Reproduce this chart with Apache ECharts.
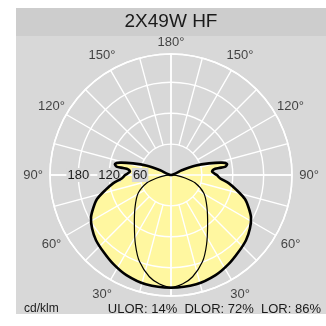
<!DOCTYPE html>
<html>
<head>
<meta charset="utf-8">
<script src="https://cdn.jsdelivr.net/npm/echarts@6/dist/echarts.min.js"></script>
<style>
  html, body { margin: 0; padding: 0; background: #fff; }
  #wrap { position: relative; width: 326px; height: 326px; }
  #headBar { position: absolute; left: 16px; top: 8px; width: 310px; height: 28px; background: #cdcdcd; }
  #bodyBox { position: absolute; left: 16px; top: 36px; width: 310px; height: 278px; background: #d8d8d8; }
  #chart { position: absolute; left: 0; top: 0; width: 326px; height: 326px; }
</style>
</head>
<body>
<div id="wrap">
  <div id="headBar"></div>
  <div id="bodyBox"></div>
  <div id="chart"></div>
</div>
<script>
// Luminous intensity diagram in cd/klm, gamma 0° = nadir, 180° = zenith
const titleText = '2X49W HF';
const unitText = 'cd/klm';
const ratioText = 'ULOR: 14%  DLOR: 72%  LOR: 86%';

const radiusMax = 235;
const radiusStep = 60;                        // rings at 60, 120, 180
const angleLabels = [30, 60, 90, 120, 150, 180];
const spokeStep = 15;

// C0 / C180 plane (thick outline, filled)
const gammaC0 = [0, 13, 24, 33, 41, 49, 56, 62, 67, 72, 77, 82, 86, 90, 94.6, 97.6, 98.3, 98.7, 101, 103.6, 107, 111, 114, 115];
const intensityC0 = [219, 218, 213, 206, 199, 193, 185, 176, 164, 151, 131, 113, 96, 89, 80, 84, 94, 107, 111, 102, 77, 50, 23, 0];

// C90 / C270 plane (thin outline)
const gammaC90 = [0, 6, 12, 20, 27, 36, 48, 61, 72, 78, 85, 90];
const intensityC90 = [218, 213, 202, 179, 152, 121, 94, 73, 49, 28, 10, 0];

const FONT = '"Liberation Sans", Arial, Helvetica, sans-serif';
const CX = 171, CY = 175, R = 121;
const labelRadius = radiusMax * 138 / R;      // angle labels sit just outside the rim

// Mirror one half-plane into a closed loop: left side 0..γmax, right side back down.
function closedLoop(gammas, values) {
  const left = gammas.map((g, i) => [values[i], g]);
  const right = [];
  for (let i = gammas.length - 2; i >= 1; i--) right.push([values[i], 360 - gammas[i]]);
  return left.concat(right);
}
const loopC0 = closedLoop(gammaC0, intensityC0);
const loopC90 = closedLoop(gammaC90, intensityC90);

function shapeSeries(loop, style, z) {
  return {
    type: 'custom',
    coordinateSystem: 'polar',
    polarIndex: 0,
    silent: true,
    z: z,
    clip: false,
    data: loop,
    renderItem: function (params, api) {
      if (params.dataIndex !== 0) return null;
      const pts = loop.map(p => api.coord(p));
      return { type: 'polygon', shape: { points: pts, smooth: 0.25 }, style: style };
    }
  };
}

// angle labels on both halves: left side value = γ, right side value = 360 - γ
const angleLabelData = [];
angleLabels.forEach(g => {
  const item = { value: [labelRadius, g], name: g + '°' };
  if (g === 180) item.label = { offset: [0, 5] };
  angleLabelData.push(item);
  if (g !== 180) angleLabelData.push({ value: [labelRadius, 360 - g], name: g + '°' });
});

const gridLine = { color: '#ffffff', width: 1.4 };
const innerSpokeRadius = R * radiusStep / radiusMax;

const chart = echarts.init(document.getElementById('chart'), null, { renderer: 'canvas' });
chart.setOption({
  animation: false,
  backgroundColor: 'transparent',
  polar: [
    { center: [CX, CY], radius: R },
    { center: [CX, CY], radius: [innerSpokeRadius, R] },
    { center: [CX, CY], radius: R }
  ],
  angleAxis: [
    {
      polarIndex: 0, type: 'value', min: 0, max: 360, interval: 30,
      startAngle: 270, clockwise: true, z: 5,
      axisLine: { show: true, lineStyle: { color: '#ffffff', width: 1.6 } },
      axisTick: { show: false }, splitLine: { show: false }, axisLabel: { show: false }
    },
    {
      polarIndex: 1, type: 'value', min: 0, max: 360, interval: spokeStep,
      startAngle: 270, clockwise: true, z: 5,
      axisLine: { show: false }, axisTick: { show: false }, axisLabel: { show: false },
      splitLine: { show: true, lineStyle: gridLine }
    },
    {
      polarIndex: 2, type: 'value', min: 0, max: 360, interval: 90,
      startAngle: 180, clockwise: true, z: 5,
      axisLine: { show: false }, axisTick: { show: false }, axisLabel: { show: false },
      splitLine: { show: true, lineStyle: gridLine }
    }
  ],
  radiusAxis: [
    {
      polarIndex: 0, type: 'value', min: 0, max: radiusMax, interval: radiusStep, z: 5,
      axisLine: { show: false }, axisTick: { show: false }, axisLabel: { show: false },
      splitLine: { show: true, lineStyle: gridLine }
    },
    { polarIndex: 1, type: 'value', min: 0, max: radiusMax, show: false },
    {
      polarIndex: 2, type: 'value', min: 0, max: radiusMax, interval: radiusStep, z: 8,
      axisLine: { show: false }, axisTick: { show: false }, splitLine: { show: false },
      axisLabel: {
        show: true, showMinLabel: false, showMaxLabel: false, margin: 0,
        align: 'center', verticalAlign: 'middle',
        fontSize: 13, color: '#1a1a1a', fontFamily: FONT,
        backgroundColor: '#d8d8d8', padding: [1, 1, 0, 1]
      }
    }
  ],
  series: [
    shapeSeries(loopC0, { fill: '#fff7a0', stroke: null }, 1),
    shapeSeries(loopC90, { fill: null, stroke: '#000000', lineWidth: 1.2 }, 10),
    shapeSeries(loopC0, { fill: null, stroke: '#000000', lineWidth: 2.6, lineJoin: 'round' }, 11),
    {
      type: 'scatter', coordinateSystem: 'polar', polarIndex: 0, clip: false, silent: true,
      symbolSize: 1, itemStyle: { color: 'rgba(0,0,0,0)' }, z: 12,
      data: angleLabelData,
      label: {
        show: true, position: 'inside', formatter: '{b}',
        fontSize: 13, color: '#1a1a1a', fontFamily: FONT
      }
    }
  ],
  graphic: [
    { type: 'text', x: CX, y: 22, style: { text: titleText, font: '19px ' + FONT, fill: '#1a1a1a', align: 'center', verticalAlign: 'middle' } },
    { type: 'text', x: 24, y: 309, style: { text: unitText, font: '12px ' + FONT, fill: '#1a1a1a', align: 'left', verticalAlign: 'middle' } },
    { type: 'text', x: 321, y: 309, style: { text: ratioText, font: '13px ' + FONT, fill: '#1a1a1a', align: 'right', verticalAlign: 'middle' } }
  ]
});
</script>
</body>
</html>
